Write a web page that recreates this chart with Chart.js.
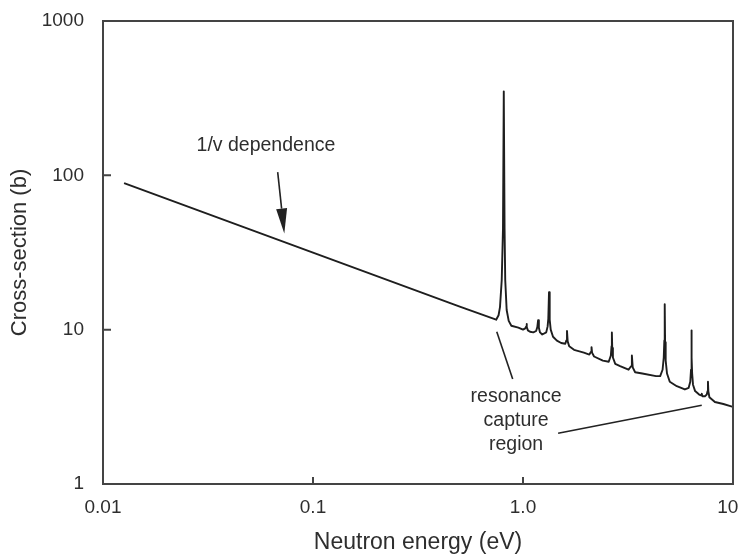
<!DOCTYPE html>
<html lang="en">
<head>
  <meta charset="UTF-8" />
  <title>Neutron capture cross-section</title>
  <script src="https://cdn.jsdelivr.net/npm/chart.js"></script>
  <style>
    body {
      margin: 0;
      background: white;
    }
    #wrap {
      width: 738px;
      height: 556px;
    }
  </style>
</head>
<body>
  <div id="wrap"><canvas id="xsChart" width="738" height="556"></canvas></div>
  <script>
    // curve: energy (eV) and cross-section (barns)
    const energy = [
      0.0126, 0.1, 0.5, 0.745, 0.765, 0.777, 0.792, 0.803, 0.81, 0.817, 0.823, 0.836, 0.855, 0.88, 0.95,
      1.0, 1.025, 1.036, 1.04, 1.044, 1.055, 1.08, 1.12, 1.155, 1.17, 1.18, 1.19, 1.205, 1.235,
      1.29, 1.31, 1.32, 1.33, 1.34, 1.355, 1.39, 1.45, 1.52, 1.59, 1.608, 1.62, 1.632, 1.66, 1.75, 1.95,
      2.07, 2.108, 2.12, 2.132, 2.18, 2.4, 2.56, 2.62, 2.64, 2.65, 2.66, 2.68, 2.75, 2.9,
      3.18, 3.27, 3.3, 3.33, 3.42, 3.7, 4.3, 4.5, 4.62, 4.68, 4.71, 4.73, 4.75, 4.78, 4.85, 5.0, 5.4, 5.9,
      6.15, 6.26, 6.31, 6.335, 6.35, 6.365, 6.39, 6.45, 6.6, 6.9, 7.05, 7.1, 7.15, 7.35, 7.5, 7.57, 7.6, 7.63,
      7.72, 8.2, 9.0, 10
    ];
    const crossSection = [
      89, 31.6, 14.1, 11.6, 12.4, 14, 21, 45, 350, 45, 21, 13.4, 11.4, 10.6, 10.3,
      10.0, 10.2, 10.5, 10.9, 10.4, 9.9, 9.7, 9.6, 9.8, 10.4, 11.5, 10.3, 9.6, 9.3,
      9.6, 10.5, 11.8, 17.5, 11.6, 10.0, 9.0, 8.5, 8.2, 8.1, 8.5, 9.8, 8.4, 7.8, 7.4, 7.1,
      6.9, 7.2, 7.7, 7.1, 6.7, 6.3, 6.2, 6.8, 7.8, 9.6, 7.6, 6.6, 6.0, 5.8,
      5.5, 5.8, 6.8, 5.7, 5.3, 5.2, 5.0, 5.0, 5.5, 6.6, 8.5, 14.6, 8.3, 6.3, 5.2, 4.6, 4.3, 4.1,
      4.2, 4.6, 5.5, 6.8, 9.9, 6.6, 5.2, 4.4, 4.0, 3.8, 3.75, 3.85, 3.7, 3.7, 3.8, 4.0, 4.6, 4.0,
      3.65, 3.4, 3.3, 3.16
    ];

    const xTickValues = [0.01, 0.1, 1, 10];
    const xTickLabels = ['0.01', '0.1', '1.0', '10  '];
    const yTickValues = [1, 10, 100, 1000];
    const yTickLabels = ['1', '10', '100', '1000'];

    const FONT = "'Liberation Sans', Arial, sans-serif";
    const INK = '#2e2e2e';
    const AXIS = '#444';

    // annotations, placed in data coordinates
    const notes = [
      { lines: ['1/v dependence'], x: 0.0597, y: 155 },
      { lines: ['resonance', 'capture', 'region'], x: 0.927, y: 2.56 }
    ];
    const pointers = [
      { from: [0.75, 9.68], to: [0.893, 4.79] },
      { from: [1.47, 2.13], to: [7.1, 3.24] }
    ];
    const arrow = { from: [0.0679, 105], to: [0.0730, 42] };

    function labelFor(values, labels, v) {
      const i = values.findIndex(t => Math.abs(Math.log10(t) - Math.log10(v)) < 1e-6);
      return i >= 0 ? labels[i] : '';
    }

    const decorations = {
      id: 'decorations',
      afterDraw(chart) {
        const { ctx, chartArea: a, scales: { x, y } } = chart;
        ctx.save();

        // closing box and inward ticks
        ctx.strokeStyle = AXIS;
        ctx.lineWidth = 2;
        ctx.strokeRect(a.left, a.top, a.right - a.left, a.bottom - a.top);
        ctx.beginPath();
        xTickValues.forEach(v => {
          const px = x.getPixelForValue(v);
          ctx.moveTo(px, a.bottom);
          ctx.lineTo(px, a.bottom - 7);
        });
        yTickValues.forEach(v => {
          const py = y.getPixelForValue(v);
          ctx.moveTo(a.left, py);
          ctx.lineTo(a.left + 8, py);
        });
        ctx.stroke();

        // pointer lines
        ctx.strokeStyle = '#222';
        ctx.lineWidth = 1.6;
        pointers.forEach(p => {
          ctx.beginPath();
          ctx.moveTo(x.getPixelForValue(p.from[0]), y.getPixelForValue(p.from[1]));
          ctx.lineTo(x.getPixelForValue(p.to[0]), y.getPixelForValue(p.to[1]));
          ctx.stroke();
        });

        // arrow
        const x1 = x.getPixelForValue(arrow.from[0]), y1 = y.getPixelForValue(arrow.from[1]);
        const x2 = x.getPixelForValue(arrow.to[0]), y2 = y.getPixelForValue(arrow.to[1]);
        const ang = Math.atan2(y2 - y1, x2 - x1);
        const headLen = 25, headHalf = 5.5;
        const bx = x2 - headLen * Math.cos(ang), by = y2 - headLen * Math.sin(ang);
        ctx.beginPath();
        ctx.moveTo(x1, y1);
        ctx.lineTo(bx, by);
        ctx.stroke();
        ctx.fillStyle = '#222';
        ctx.beginPath();
        ctx.moveTo(x2, y2);
        ctx.lineTo(bx + headHalf * Math.sin(ang), by - headHalf * Math.cos(ang));
        ctx.lineTo(bx - headHalf * Math.sin(ang), by + headHalf * Math.cos(ang));
        ctx.closePath();
        ctx.fill();

        // texts
        ctx.fillStyle = INK;
        ctx.font = '19.5px ' + FONT;
        ctx.textAlign = 'center';
        ctx.textBaseline = 'middle';
        notes.forEach(n => {
          const cx = x.getPixelForValue(n.x), cy = y.getPixelForValue(n.y);
          const lh = 24;
          n.lines.forEach((t, i) => {
            ctx.fillText(t, cx, cy + (i - (n.lines.length - 1) / 2) * lh);
          });
        });
        ctx.restore();
      }
    };

    new Chart(document.getElementById('xsChart'), {
      type: 'scatter',
      data: {
        datasets: [{
          data: energy.map((e, i) => ({ x: e, y: crossSection[i] })),
          showLine: true,
          pointRadius: 0,
          borderColor: '#1e1e1e',
          borderWidth: 1.9,
          borderJoinStyle: 'round',
          tension: 0
        }]
      },
      options: {
        responsive: false,
        animation: false,
        layout: { padding: { left: 7, right: 5, top: 21, bottom: 0 } },
        plugins: {
          legend: { display: false },
          tooltip: { enabled: false }
        },
        scales: {
          x: {
            type: 'logarithmic',
            min: 0.01,
            max: 10,
            afterBuildTicks: s => { s.ticks = xTickValues.map(v => ({ value: v })); },
            afterFit: s => { s.height = 72; s.paddingLeft = 0; s.paddingRight = 0; },
            grid: { drawOnChartArea: false, drawTicks: false },
            border: { display: true, color: AXIS, width: 2 },
            ticks: {
              autoSkip: false,
              maxRotation: 0,
              padding: 12,
              color: INK,
              font: { family: FONT, size: 19 },
              callback: v => labelFor(xTickValues, xTickLabels, v)
            },
            title: {
              display: true,
              text: 'Neutron energy (eV)',
              color: INK,
              padding: 0,
              font: { family: FONT, size: 23 }
            }
          },
          y: {
            type: 'logarithmic',
            min: 1,
            max: 1000,
            afterBuildTicks: s => { s.ticks = yTickValues.map(v => ({ value: v })); },
            afterFit: s => { s.width = 96; s.paddingTop = 0; s.paddingBottom = 0; },
            grid: { drawOnChartArea: false, drawTicks: false },
            border: { display: true, color: AXIS, width: 2 },
            ticks: {
              autoSkip: false,
              padding: 19,
              color: INK,
              font: { family: FONT, size: 19 },
              callback: v => labelFor(yTickValues, yTickLabels, v)
            },
            title: {
              display: true,
              text: 'Cross-section (b)',
              color: INK,
              padding: 0,
              font: { family: FONT, size: 22 }
            }
          }
        }
      },
      plugins: [decorations]
    });
  </script>
</body>
</html>
